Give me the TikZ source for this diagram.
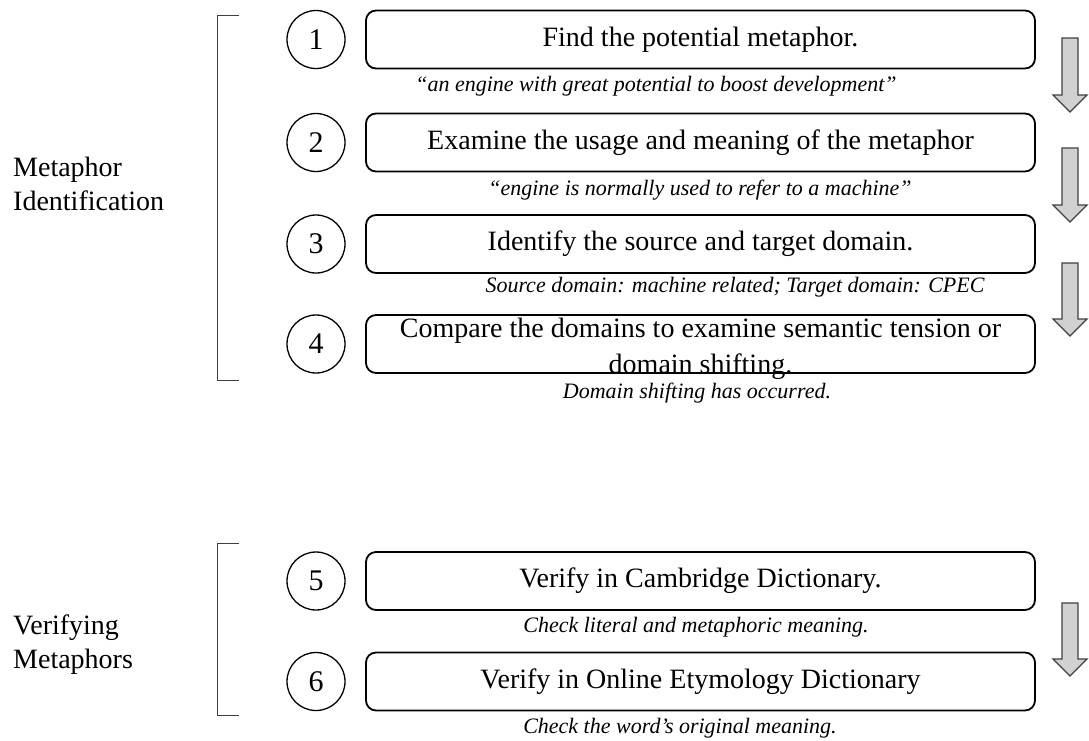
\documentclass[tikz,border=0pt]{standalone}
\usepackage{fontspec}
\setmainfont{Liberation Serif}
\begin{document}
\begin{tikzpicture}[x=1pt,y=-1pt,
  stepbox/.style={draw, line width=1.8pt, rounded corners=10pt, minimum width=669pt, minimum height=58pt, inner sep=0pt, font=\fontsize{28}{36}\selectfont, align=center},
  boxtext/.style={inner sep=0pt, font=\fontsize{28}{36}\selectfont, align=center},
  numcircle/.style={draw, circle, line width=1.3pt, minimum size=58pt, inner sep=0pt, font=\fontsize{30}{32}\selectfont},
  note/.style={font=\fontsize{22}{26}\selectfont\itshape, inner sep=0pt},
  grouplabel/.style={font=\fontsize{28}{34}\selectfont, align=left, anchor=west, inner sep=0pt},
  bracket/.style={draw=black!75, line width=1pt},
  blockarrow/.style={draw=black!75, fill=black!18, line width=1.2pt, line join=miter}]
\useasboundingbox (0,0) rectangle (1089,740);

% group labels and brackets
\node[grouplabel] (g1) at (13,183.5) {Metaphor\\Identification};
\node[grouplabel] (g2) at (13,645) {Verifying\\Metaphors};
\draw[bracket] (239,15) -- (217,15) -- (217,380) -- (239,380);
\draw[bracket] (239,543) -- (217,543) -- (217,715) -- (239,715);

% circles
\node[numcircle] (c1) at (316,39.5) {1};
\node[numcircle] (c2) at (316,142.5) {2};
\node[numcircle] (c3) at (316,244) {3};
\node[numcircle] (c4) at (316,344) {4};
\node[numcircle] (c5) at (316,581) {5};
\node[numcircle] (c6) at (316,681.5) {6};

% step boxes
\node[stepbox] (s1) at (700.5,39.5) {Find the potential metaphor.};
\node[stepbox] (s2) at (700.5,142.5) {Examine the usage and meaning of the metaphor};
\node[stepbox] (s3) at (700.5,244) {Identify the source and target domain.};
\node[stepbox] (s4) at (700.5,344) {};
\node[boxtext] (s4t) at (700.5,348.3) {Compare the domains to examine semantic tension or\\domain shifting.};
\node[stepbox] (s5) at (700.5,581) {Verify in Cambridge Dictionary.};
\node[stepbox] (s6) at (700.5,681.5) {Verify in Online Etymology Dictionary};

% notes
\node[note] (n1) at (656,86) {“an engine with great potential to boost development”};
\node[note] (n2) at (700,190) {“engine is normally used to refer to a machine”};
\node[note] (n3) at (735,287) {Source domain: machine related; Target domain: CPEC};
\node[note] (n4) at (697,393) {Domain shifting has occurred.};
\node[note] (n5) at (696,627) {Check literal and metaphoric meaning.};
\node[note] (n6) at (680,728) {Check the word’s original meaning.};

% block arrows
\foreach \t/\b in {38/112,148/222,263/336,603/676}{
  \draw[blockarrow] (1062,\t) -- (1078,\t) -- (1078,\b-17) -- (1087,\b-17) -- (1070,\b) -- (1053,\b-17) -- (1062,\b-17) -- cycle;
}
\end{tikzpicture}
\end{document}
